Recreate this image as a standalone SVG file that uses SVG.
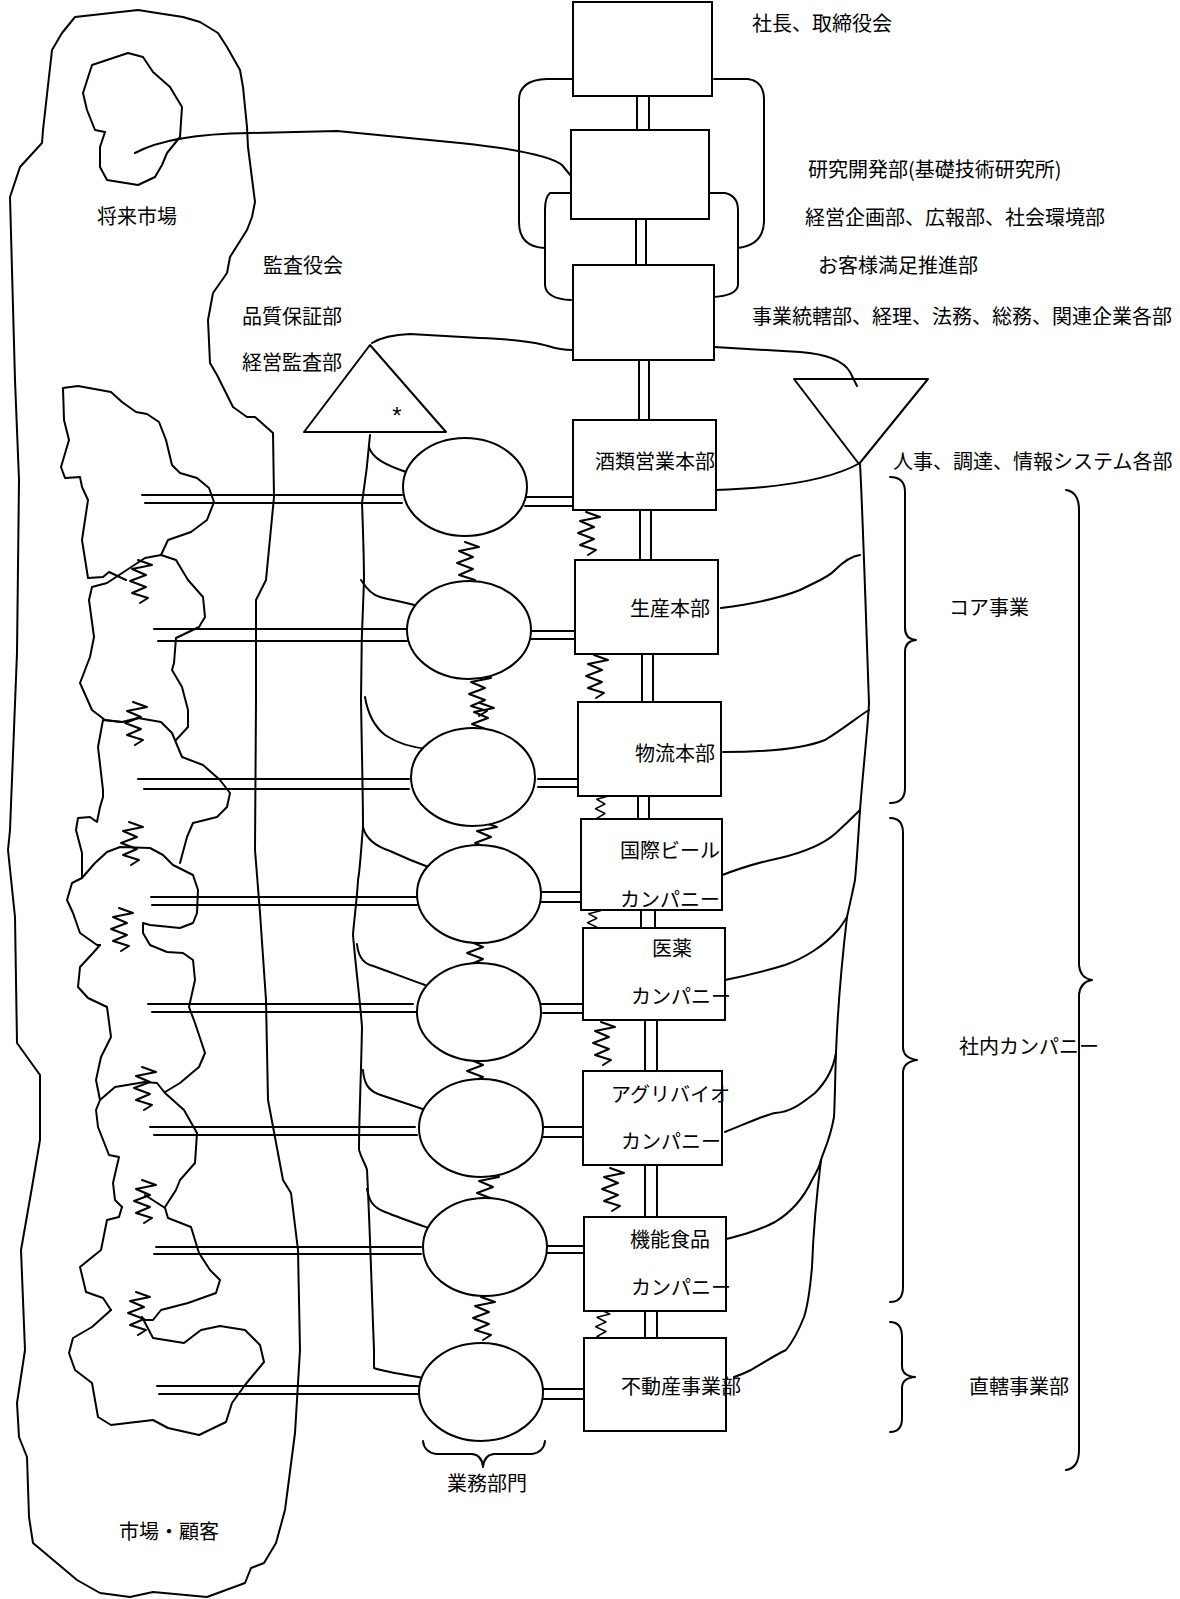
<svg xmlns="http://www.w3.org/2000/svg" xmlns:xlink="http://www.w3.org/1999/xlink" width="1180" height="1599" viewBox="0 0 1180 1599">
<style>
.s{fill:none;stroke:#000;stroke-width:2;stroke-linecap:round;stroke-linejoin:round}
.b{fill:#fff;stroke:#000;stroke-width:2}
.t{font-family:"Noto Sans CJK JP","Noto Sans CJK SC",sans-serif;font-size:20px;fill:#000}
.a{font-family:"Liberation Sans",Arial,sans-serif;font-size:24px;fill:#000}
</style>
<defs>
<path id="zz" class="s" d="M12,0 L26,5 L6,9 L20,15 L4,21 L20,27 L6,33 L22,38 L14,43"/>
</defs>
<rect x="0" y="0" width="1180" height="1599" fill="#fff"/>

<g id="markets">
<path class="s" d="M75,17 L138,10 L157,13 L183,17 L200,22 L218,33 L227,47 L240,70 L243,87 L247,127 L248,147 L255,202 L252,217 L247,230 L230,257 L227,273 L213,293 L208,320 L210,363 L217,375 L233,407 L247,417 L255,417 L273,433 L274,497 L266,580 L256,600 L256,700 L255,850 L260,913 L266,1000 L268,1100 L283,1180 L291,1193 L298,1250 L300,1350 L295,1433 L285,1510 L276,1543 L264,1563 L251,1568 L245,1583 L207,1597 L153,1592 L130,1597 L100,1593 L77,1580 L33,1543 L29,1517 L27,1457 L19,1437 L17,1403 L25,1350 L21,1250 L31,1193 L40,1140 L40,1075 L17,1043 L15,917 L8,850 L10,830 L17,653 L19,480 L15,380 L10,197 L20,167 L42,143 L43,130 L52,50 L62,33 Z"/>
<path class="s" d="M92,65 L128,53 L143,57 L153,72 L170,87 L182,107 L180,137 L167,153 L162,165 L155,177 L138,185 L107,180 L100,167 L100,147 L105,132 L95,130 L87,110 L83,93 Z"/>
<path class="s" d="M161,555 L168,540 L191,532 L207,520 L214,502 L209,488 L197,478 L180,473 L172,465 L166,440 L159,422 L147,414 L136,412 L122,402 L111,392 L78,386 L63,388 L64,420 L69,440 L61,467 L65,478 L80,477 L82,487 L88,500 L82,540 L88,578 L103,577 L109,572 L126,580"/>
<path class="s" d="M176,740 L188,727 L188,710 L182,687 L172,670 L174,663 L176,638 L199,627 L205,617 L203,597 L188,580 L176,560 L161,555 L145,558 L107,583 L92,587 L89,600 L94,637 L90,657 L80,683 L92,710 L105,720 L122,722"/>
<path class="s" d="M82,878 L82,853 L76,830 L78,818 L90,817 L97,822 L100,807 L103,797 L103,790 L98,747 L103,720 L122,722 L138,718 L161,722 L172,733 L182,757 L203,765 L220,780 L230,793 L227,807 L217,817 L193,823 L187,837 L180,863"/>
<path class="s" d="M82,878 L95,863 L107,852 L120,847 L150,848 L163,855 L173,865 L193,875 L198,890 L197,913 L193,923 L180,928 L150,925 L143,923 L143,933 M82,878 L72,883 L67,900 L73,913 L80,933 L97,945 L100,945"/>
<path class="s" d="M143,933 L150,945 L167,952 L183,953 L193,960 L195,980 L189,1007 L195,1023 L205,1053 L199,1067 L180,1083 L165,1092 M100,945 L93,953 L80,967 L78,987 L88,998 L107,1007 L111,1037 L101,1057 L96,1080 L100,1100"/>
<path class="s" d="M100,1100 L115,1087 L145,1082 L157,1083 L165,1093 L184,1110 L197,1133 L195,1163 L180,1180 L176,1190 L165,1207 M100,1100 L96,1110 L98,1127 L109,1155 L119,1157 L113,1183 L115,1200 L122,1207"/>
<path class="s" d="M122,1207 L119,1217 L107,1220 L101,1250 L80,1267 L86,1292 L103,1298 L111,1310 M145,1195 L165,1208 L168,1218 L191,1227 L199,1253 L210,1270 L220,1280 L216,1293 L188,1303 L161,1310 L153,1320 L145,1320"/>
<path class="s" d="M111,1310 L92,1327 L73,1338 L69,1353 L75,1370 L92,1383 L98,1417 L111,1425 L153,1420 L168,1428 L199,1435 L226,1422 L232,1403 L245,1385 L264,1362 L260,1345 L245,1330 L220,1326 L201,1330 L184,1343 L153,1338 L142,1317"/>
<use href="#zz" x="126" y="560"/>
<use href="#zz" x="121" y="702"/>
<use href="#zz" x="117" y="822"/>
<use href="#zz" x="107" y="908"/>
<use href="#zz" x="130" y="1067"/>
<use href="#zz" x="130" y="1180"/>
<use href="#zz" x="124" y="1292"/>
</g>

<g id="connectors">
<path class="s" d="M637,96 V130 M649,96 V130 M636,219 V265 M646,219 V265 M639,360 V420 M649,360 V420 M640,510 V560 M651,510 V560 M642,654 V702 M653,654 V702 M638,796 V819 M649,796 V819 M641,910 V935 M655,910 V935 M645,1020 V1071 M657,1020 V1071 M645,1165 V1217 M657,1165 V1217 M645,1311 V1338 M657,1311 V1338"/>
<path class="s" d="M573,79 L547,79 Q519,80 519,100 L519,222 Q519,247 545,248 M714,79 L748,79 Q764,81 764,100 L764,222 Q763,245 738,248 M571,193 L550,193 Q545,197 545,210 L545,285 Q546,299 571,300 M710,193 L725,193 Q738,196 738,210 L738,285 Q737,296 712,297"/>
<path class="s" d="M135,153 Q170,134 250,133 L337,131 L460,143 Q545,152 562,165 L571,176"/>
<path class="s" d="M372,343 Q385,335 410,334 L480,338 Q530,340 548,346 Q560,350 573,350"/>
<path class="s" d="M714,347 L800,352 Q840,355 850,372 L857,386"/>
<path class="s" d="M715,490 C780,488 830,480 860,463"/>
<path class="s" d="M860,463 C863,520 866,620 869,703 C868,725 864,760 860,810 C858,840 857,860 855,880 C851,900 848,912 847,917 C842,960 838,1000 836,1053 C835,1080 835,1100 834,1117 C830,1140 824,1150 821,1160 C816,1200 813,1240 812,1267 C810,1290 808,1305 804,1317 C797,1335 790,1345 786,1350 C775,1355 760,1365 751,1370 C745,1373 740,1375 734,1377"/>
<path class="s" d="M721,608 C760,603 785,596 800,590 C815,582 828,578 835,570 C845,560 852,556 860,555"/>
<path class="s" d="M723,752 C770,752 805,748 825,740 C845,728 860,715 869,710"/>
<path class="s" d="M717,877 C740,868 760,862 780,858 C805,852 825,843 836,833 C848,822 855,815 860,810"/>
<path class="s" d="M725,980 C750,975 769,970 785,965 C805,958 825,945 838,930 C843,924 845,920 847,917"/>
<path class="s" d="M725,1132 C750,1122 765,1115 775,1113 C790,1112 800,1105 815,1093 C828,1080 834,1065 836,1053"/>
<path class="s" d="M712,1242 C735,1238 760,1230 775,1222 C795,1210 805,1195 812,1180 C818,1170 820,1165 821,1160"/>
<path class="s" d="M370,435 C368,460 364,490 362,503 C363,530 364,560 364,580 C362,620 361,670 361,700 C362,760 363,800 363,827 C361,850 360,870 358,880 C357,900 354,920 353,935 C356,970 360,1000 362,1027 C361,1080 359,1120 359,1150 C362,1160 366,1165 367,1170 C370,1230 372,1300 374,1350 L374,1368 C385,1372 400,1374 425,1378"/>
<path class="s" d="M369,447 C372,458 385,465 409,473 M361,580 C366,588 372,595 380,597 C395,601 410,603 417,606 M365,697 C368,715 375,727 385,735 C400,745 415,748 429,749 M363,827 C366,840 378,847 390,851 C405,858 420,864 431,868 M357,944 C358,955 362,962 370,965 C385,970 405,978 425,985 M363,1070 C364,1083 368,1090 378,1094 C395,1100 415,1106 431,1112 M367,1189 C369,1200 372,1207 385,1212 C400,1218 420,1225 434,1230"/>
<path class="s" d="M142,495 H402 M145,503 H402 M154,629 H407 M158,641 H407 M138,779 H409 M144,789 H409 M151,897 H417 M152,905 H417 M148,1004 H413 M152,1012 H417 M150,1127 H415 M154,1135 H417 M156,1247 H421 M154,1254 H421 M157,1386 H421 M159,1394 H421"/>
<path class="s" d="M522,497 H573 M525,506 H573 M529,631 H576 M531,639 H576 M538,779 H579 M538,787 H579 M541,892 H581 M541,902 H581 M541,1004 H583 M543,1013 H583 M540,1127 H583 M540,1137 H583 M545,1246 H589 M545,1253 H584 M543,1389 H585 M543,1399 H585"/>
<use href="#zz" x="453" y="542"/>
<use href="#zz" x="465" y="673"/>
<use href="#zz" x="468" y="703"/>
<use href="#zz" x="471" y="822"/>
<use href="#zz" x="463" y="932"/>
<use href="#zz" x="463" y="1050"/>
<use href="#zz" x="473" y="1172"/>
<use href="#zz" x="469" y="1297"/>
<use href="#zz" x="574" y="512"/>
<use href="#zz" x="582" y="655"/>
<use href="#zz" transform="translate(593,792) scale(0.6,0.8)"/>
<use href="#zz" transform="translate(585,907) scale(0.6,0.75)"/>
<use href="#zz" x="589" y="1022"/>
<use href="#zz" x="598" y="1168"/>
<use href="#zz" transform="translate(593,1310) scale(0.65,0.8)"/>
</g>

<g id="braces">
<path class="s" d="M890,477 Q905,477 905,492 L905,628 Q905,639 916,640 Q905,641 905,652 L905,788 Q905,803 890,803"/>
<path class="s" d="M890,818 Q903,818 903,833 L903,1047 Q903,1058 917,1060 Q903,1062 903,1073 L903,1287 Q903,1302 890,1302"/>
<path class="s" d="M890,1322 Q902,1322 902,1337 L902,1366 Q902,1376 915,1377 Q902,1378 902,1388 L902,1418 Q902,1432 890,1432"/>
<path class="s" d="M1066,490 Q1079,492 1079,510 L1079,965 Q1080,978 1092,980 Q1080,982 1079,995 L1079,1450 Q1079,1468 1066,1470"/>
<path class="s" d="M423,1441 Q424,1452 436,1454 L472,1454 Q482,1455 483,1467 Q484,1455 494,1454 L532,1454 Q544,1452 545,1441"/>
</g>

<g id="node-president"><rect class="b" x="573" y="2" width="139" height="94"/></g>
<g id="node-rnd"><rect class="b" x="571" y="130" width="138" height="89"/></g>
<g id="node-admin"><rect class="b" x="573" y="265" width="141" height="95"/></g>
<g id="node-sales"><rect class="b" x="573" y="420" width="143" height="90"/><text class="t" x="595" y="469">酒類営業本部</text></g>
<g id="node-production"><rect class="b" x="575" y="560" width="143" height="94"/><text class="t" x="630" y="616">生産本部</text></g>
<g id="node-logistics"><rect class="b" x="578" y="702" width="143" height="94"/><text class="t" x="635" y="761">物流本部</text></g>
<g id="node-intl"><rect class="b" x="581" y="819" width="141" height="91"/><text class="t" x="620" y="858">国際ビール</text><text class="t" x="620" y="907">カンパニー</text></g>
<g id="node-pharma"><rect class="b" x="583" y="928" width="142" height="92"/><text class="t" x="652" y="956">医薬</text><text class="t" x="631" y="1004">カンパニー</text></g>
<g id="node-agri"><rect class="b" x="583" y="1071" width="139" height="94"/><text class="t" x="611" y="1102">アグリバイオ</text><text class="t" x="621" y="1149">カンパニー</text></g>
<g id="node-food"><rect class="b" x="584" y="1217" width="142" height="94"/><text class="t" x="630" y="1247">機能食品</text><text class="t" x="631" y="1295">カンパニー</text></g>
<g id="node-realestate"><rect class="b" x="584" y="1338" width="142" height="93"/><text class="t" x="621" y="1394">不動産事業部</text></g>

<g id="node-ops">
<ellipse class="b" cx="465" cy="487" rx="62" ry="49"/>
<ellipse class="b" cx="469" cy="630" rx="62" ry="49"/>
<ellipse class="b" cx="473" cy="777" rx="62" ry="49"/>
<ellipse class="b" cx="479" cy="894" rx="62" ry="49"/>
<ellipse class="b" cx="479" cy="1012" rx="62" ry="49"/>
<ellipse class="b" cx="481" cy="1128" rx="62" ry="49"/>
<ellipse class="b" cx="485" cy="1247" rx="62" ry="49"/>
<ellipse class="b" cx="481" cy="1392" rx="62" ry="49"/>
</g>

<g id="node-audit-triangle"><path class="s" d="M370,345 L304,432 L446,432 Z"/><text class="a" x="397" y="424" text-anchor="middle">*</text></g>
<g id="node-hr-triangle"><path class="s" d="M794,379 L928,379 L859,464 Z"/></g>

<g id="labels">
<text class="t" x="752" y="31">社長、取締役会</text>
<text class="t" x="808" y="177">研究開発部(基礎技術研究所)</text>
<text class="t" x="805" y="225">経営企画部、広報部、社会環境部</text>
<text class="t" x="818" y="273">お客様満足推進部</text>
<text class="t" x="752" y="324">事業統轄部、経理、法務、総務、関連企業各部</text>
<text class="t" x="893" y="469">人事、調達、情報システム各部</text>
<text class="t" x="97" y="224">将来市場</text>
<text class="t" x="263" y="273">監査役会</text>
<text class="t" x="242" y="324">品質保証部</text>
<text class="t" x="242" y="370">経営監査部</text>
<text class="t" x="119" y="1539">市場・顧客</text>
<text class="t" x="447" y="1491">業務部門</text>
<text class="t" x="949" y="615">コア事業</text>
<text class="t" x="959" y="1054">社内カンパニー</text>
<text class="t" x="969" y="1394">直轄事業部</text>
</g>
</svg>
